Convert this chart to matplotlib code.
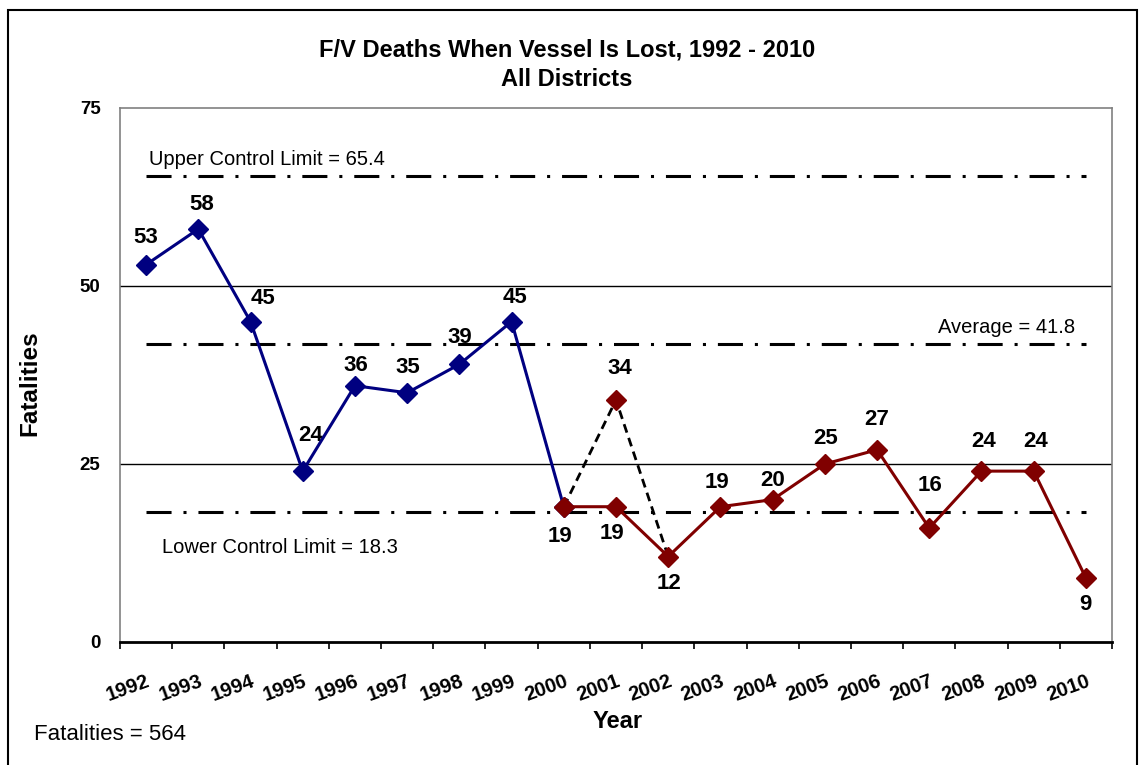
import numpy as np
import matplotlib
matplotlib.use("Agg")
import matplotlib.pyplot as plt
from matplotlib.patches import Rectangle

plt.rcParams['font.family'] = ['Liberation Sans', 'DejaVu Sans']

# data
years = [str(y) for y in range(1992, 2011)]
deaths_early = [53, 58, 45, 24, 36, 35, 39, 45, 19]           # 1992-2000
deaths_late = [19, 19, 12, 19, 20, 25, 27, 16, 24, 24, 9]     # 2000-2010
alt_years = ["2000", "2001", "2002"]
alt_deaths = [19, 34, 12]
ucl = 65.4
avg = 41.8
lcl = 18.3
total = 564

# label offsets in pixels (dx, dy), dy positive = up
offs_all = [(0, 27), (3, 25), (12, 23), (8, 36), (1, 20), (1, 25), (0, 27), (3, 24),
            (-4, -30), (-4, -27), (1, -27), (-3, 24), (0, 19), (1, 25), (0, 30),
            (1, 43), (2, 30), (2, 30), (0, -27)]
off_alt = (4, 31)

navy = "#000080"
maroon = "#800000"

fig = plt.figure(figsize=(11.42, 7.65), dpi=100)
ax = fig.add_axes([120/1142, 1-642/765, (1112-120)/1142, (642-108)/765])

x_all = np.arange(len(years))
x_early = x_all[:len(deaths_early)]
x_late = x_all[len(deaths_early)-1:]
x_alt = np.array([years.index(y) for y in alt_years])

# grid lines
for g in (25, 50):
    ax.axhline(g, color="black", lw=1, zorder=1)

# control limits
dd = (0, (8.2, 3.9, 1, 3.9))
for v in (ucl, avg, lcl):
    ax.plot([x_all[0], x_all[-1]], [v, v], color="black", lw=2.2, linestyle=dd, zorder=2)

ms = 10.5
ax.plot(x_alt, alt_deaths, color="black", lw=2, linestyle=(0, (3.2, 2)), zorder=3)
ax.plot(x_early, deaths_early, color=navy, lw=2.2, marker="D", ms=ms, zorder=4)
ax.plot(x_late, deaths_late, color=maroon, lw=2.2, marker="D", ms=ms, zorder=5)
ax.plot(x_alt[1], alt_deaths[1], color=maroon, marker="D", ms=ms, zorder=5, ls="none")

vals = deaths_early[:-1] + deaths_late
for i, (v, o) in enumerate(zip(vals, offs_all)):
    ax.annotate(str(v), (x_all[i], v), xytext=(o[0]*0.72, o[1]*0.72), textcoords="offset points",
                ha="center", va="center", fontsize=16, fontweight="bold")
ax.annotate(str(alt_deaths[1]), (x_alt[1], alt_deaths[1]), xytext=(off_alt[0]*0.72, off_alt[1]*0.72),
            textcoords="offset points", ha="center", va="center", fontsize=16, fontweight="bold")

# control limit labels
ax.text(0.05, ucl + 1.0, "Upper Control Limit = 65.4", fontsize=14.5, ha="left", va="bottom")
ax.text(17.8, avg + 1.0, "Average = 41.8", fontsize=14.5, ha="right", va="bottom")
ax.text(0.3, 13.3, "Lower Control Limit = 18.3", fontsize=14.5, ha="left", va="center")

ax.set_xlim(-0.5, len(years) - 0.5)
ax.set_ylim(0, 75)
ax.set_yticks([0, 25, 50, 75])
ax.set_yticklabels(["0", "25", "50", "75"], fontsize=13.5, fontweight="bold")
ax.tick_params(axis="y", length=0, pad=14)

ax.set_xticks(np.arange(-0.5, len(years)), minor=True)
ax.set_xticks(x_all)
ax.set_xticklabels(years, fontsize=14.5, fontweight="bold", rotation=20,
                   ha="right", va="top", rotation_mode="anchor")
ax.tick_params(axis="x", which="major", length=0, pad=21)
ax.tick_params(axis="x", which="minor", length=5, width=1.2, color="black", direction="out")

for s in ("left", "top", "right"):
    ax.spines[s].set_color("#808080")
    ax.spines[s].set_linewidth(1.2)
ax.spines["bottom"].set_color("black")
ax.spines["bottom"].set_linewidth(2)

fig.text(567/1142, 1-50/765, "F/V Deaths When Vessel Is Lost, 1992 - 2010", ha="center", va="center",
         fontsize=17, fontweight="bold")
fig.text(567/1142, 1-80/765, "All Districts", ha="center", va="center", fontsize=17, fontweight="bold")
fig.text(30/1142, 1-383/765, "Fatalities", rotation=90, ha="center", va="center",
         fontsize=17.5, fontweight="bold")
fig.text(618/1142, 1-722/765, "Year", ha="center", va="center", fontsize=17, fontweight="bold")
fig.text(34/1142, 1-735/765, "Fatalities = %d" % total, ha="left", va="center", fontsize=16)

fig.patches.append(Rectangle((8/1142, -0.02), (1137-8)/1142, 1.02-10/765, transform=fig.transFigure,
                             fill=False, edgecolor="black", lw=1.5))

fig.savefig("out.png", dpi=100)
